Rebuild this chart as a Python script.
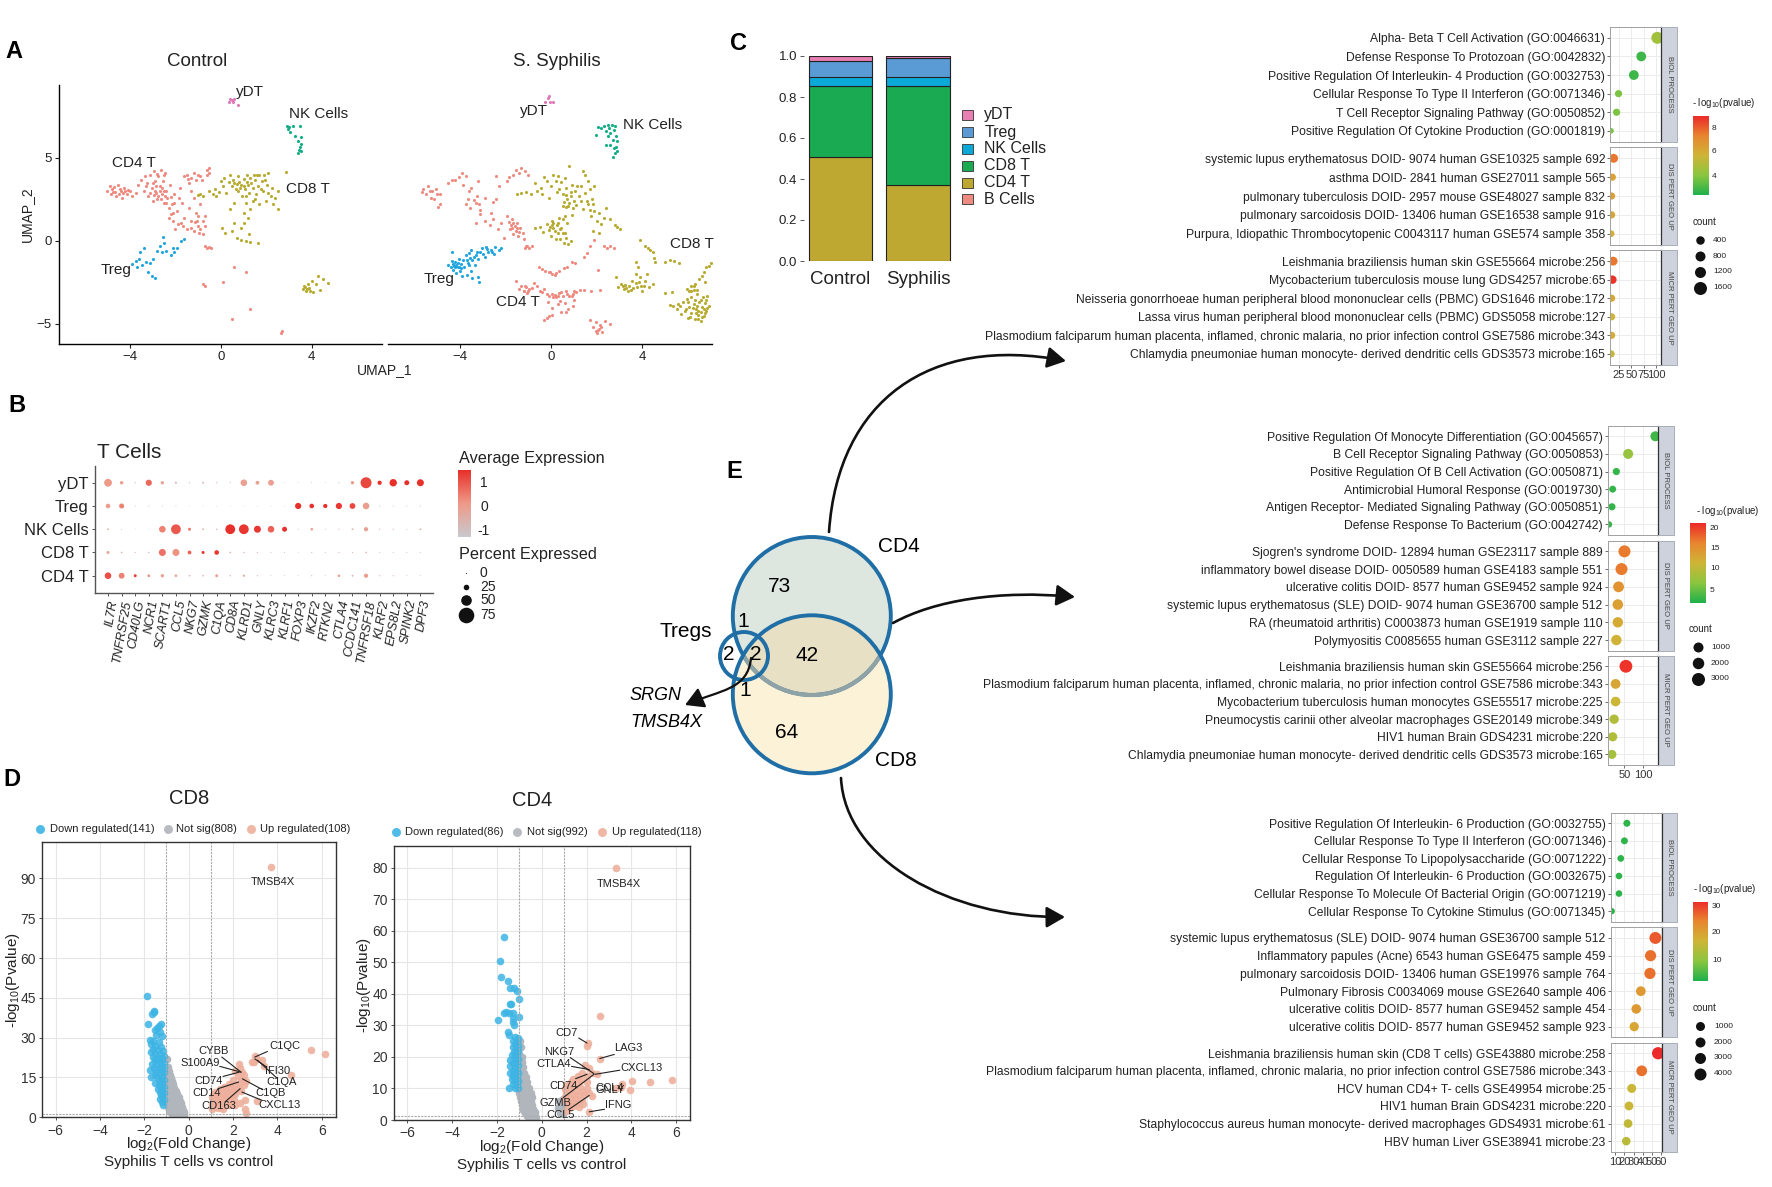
import numpy as np, pandas as pd, seaborn as sns
import matplotlib
matplotlib.use("Agg")
import matplotlib.pyplot as plt
from matplotlib.colors import LinearSegmentedColormap
from matplotlib.patches import Circle, FancyArrowPatch
from matplotlib.path import Path

sns.set_theme(style="white")
plt.rcParams['font.family'] = ['Liberation Sans', 'DejaVu Sans']
plt.rcParams['mathtext.fontset'] = 'custom'
plt.rcParams['mathtext.rm'] = 'Liberation Sans'
plt.rcParams['mathtext.default'] = 'regular'

W, H = 1772, 1187

# ---------- Panel A data ----------
ctrl_cd4 = [(-5.0,3.0),(-4.9,3.3),(-4.85,2.85),(-4.8,3.1),(-4.7,3.25),(-4.65,2.95),(-4.55,3.35),(-4.5,2.8),(-4.45,3.1),(-4.35,2.6),(-4.3,2.9),(-4.25,3.2),(-4.15,2.8),(-4.1,3.05),(-4.0,3.0),(-3.9,2.7),(-3.75,2.9),(-3.65,3.4),(-3.5,3.7),(-3.4,3.0),(-3.35,3.9),(-3.25,3.5),(-3.2,2.7),(-3.1,4.0),(-3.05,3.2),(-3.0,2.4),(-2.95,4.2),(-2.9,3.6),(-2.85,2.9),(-2.8,2.5),(-2.75,3.9),(-2.7,3.3),(-2.65,4.25),(-2.6,2.8),(-2.55,3.6),(-2.5,2.3),(-2.45,4.1),(-2.4,3.0),(-2.35,2.6),(-2.3,2.0),(-2.25,3.4),(-2.2,1.6),(-2.15,2.2),(-2.1,1.2),(-2.05,2.8),(-2.0,0.7),(-1.95,1.8),(-1.9,1.0),(-1.8,3.2),(-1.7,2.3),(-1.6,3.9),(-1.6,1.4),(-1.5,4.0),(-1.5,0.7),(-1.4,3.5),(-1.4,2.0),(-1.3,1.2),(-1.2,4.1),(-1.2,2.6),(-1.2,0.6),(-1.1,3.7),(-1.1,1.7),(-1.0,0.9),(-0.9,3.9),(-0.9,2.2),(-0.8,1.2),(-0.8,0.4),(-0.7,1.5),(-0.6,4.3),(-0.6,4.0),(-0.5,4.4),(-0.5,4.1),(-2.9,3.0),(-2.6,3.2),(-2.75,2.7),(-3.3,3.3),(-2.45,2.7),(-1.85,2.6),(-1.3,3.0),(-1.05,1.2),(-0.9,0.7),(-0.6,-0.4),(-0.5,-0.35),(-0.45,-0.45),(-0.7,-0.3),(0.6,-1.6),(1.1,-1.9),(-0.8,-2.6),(-0.7,-2.75),(0.1,-2.5),(1.3,-4.1),(0.5,-4.7),(2.7,-5.45),(2.65,-5.55),
 (-4.6,2.7),(-4.4,3.0),(-4.2,3.0),(-4.75,2.95),(-3.1,2.9),(-3.0,3.5),(-2.95,2.75),(-2.85,3.3),(-2.7,3.0),(-2.65,2.55),(-2.5,3.0),(-2.5,3.95),(-2.8,4.05),(-2.4,2.3),(-2.2,2.65),(-2.1,1.7),(-2.3,1.35),(-2.05,2.3),(-1.75,1.1),(-1.65,0.9),(-1.3,0.75),(-1.15,1.15),(-1.0,1.5),(-0.95,0.5),(-0.7,0.9),(-0.85,3.65),(-1.0,4.0),(-1.3,3.8),(-1.45,3.75)]
ctrl_cd8 = [(-1.0,2.75),(-0.9,2.85),(-0.8,2.7),(-0.5,3.0),(-0.35,2.8),(-0.25,3.15),(-0.2,2.7),(-0.1,2.95),(0.0,3.6),(0.1,3.3),(0.15,3.8),(0.25,2.9),(0.35,3.55),(0.4,4.0),(0.5,3.3),(0.55,3.7),(0.6,2.3),(0.65,3.1),(0.7,3.45),(0.75,3.9),(0.85,3.2),(0.9,3.4),(0.95,2.7),(1.0,3.75),(1.05,3.1),(1.1,2.3),(1.15,4.0),(1.2,3.4),(1.25,2.9),(1.3,1.9),(1.3,3.8),(1.4,3.2),(1.4,2.4),(1.5,3.7),(1.55,2.8),(1.6,4.0),(1.65,3.3),(1.7,2.2),(1.8,3.6),(1.85,3.0),(1.9,4.0),(2.0,2.4),(2.05,3.4),(2.1,4.1),(2.2,2.7),(2.25,3.2),(2.3,2.2),(2.4,2.6),(2.5,1.9),(2.5,3.0),(2.85,4.15),(0.05,0.8),(0.2,0.5),(0.5,0.6),(0.6,1.1),(0.7,0.2),(0.9,0.8),(0.9,0.05),(1.0,1.1),(1.1,0.0),(1.2,1.4),(1.25,0.4),(1.3,-0.05),(1.65,-0.1),(0.4,1.9),(1.0,1.7),(3.6,-2.9),(3.65,-2.7),(3.75,-3.0),(3.85,-2.6),(3.9,-2.85),(4.0,-2.4),(4.05,-3.1),(4.2,-2.6),(4.3,-2.1),(4.35,-2.95),(4.5,-2.3),(4.7,-2.55),
 (0.6,3.5),(0.8,3.55),(1.0,3.3),(1.15,3.55),(1.35,3.5),(1.45,3.95),(1.7,3.95),(1.75,3.15),(1.95,3.7),(0.75,3.0),(1.1,2.7),(1.5,2.55),(2.1,2.9),(3.7,-2.8),(3.8,-2.9),(3.95,-3.0)]
ctrl_treg = [(-3.9,-1.4),(-3.75,-1.2),(-3.7,-1.6),(-3.6,-1.1),(-3.55,-0.7),(-3.45,-1.45),(-3.4,-0.4),(-3.3,-1.3),(-3.2,-1.9),(-3.1,-1.35),(-3.05,-2.1),(-3.0,-1.1),(-2.9,-2.25),(-2.8,-0.6),(-2.7,-0.3),(-2.6,-0.65),(-2.5,-0.1),(-2.4,-0.6),(-2.2,-0.85),(-2.1,-0.4),(-2.05,-0.7),(-1.95,-0.45),(-2.55,0.25),(-1.75,0.0),(-1.6,0.12)]
ctrl_nk = [(2.9,6.9),(2.95,6.75),(3.0,6.85),(3.05,6.55),(3.2,6.95),(3.25,6.35),(3.4,6.05),(3.5,6.9),(3.55,6.25),(3.55,5.85),(3.5,5.65),(3.55,5.45),(3.4,5.3),(3.45,5.5)]
ctrl_ydt = [(0.35,8.4),(0.4,8.55),(0.5,8.5),(0.55,8.4),(0.6,8.55),(0.75,8.2)]
syph_cd4 = [(-5.65,2.95),(-5.6,3.1),(-5.5,2.8),(-5.4,3.3),(-5.3,3.0),(-5.25,2.6),(-5.15,2.5),(-5.05,3.1),(-4.95,2.05),(-4.85,2.2),(-4.85,2.8),(-4.5,3.5),(-4.35,3.7),(-4.2,3.65),(-4.05,3.85),(-3.9,4.1),(-3.85,3.4),(-3.75,3.9),(-3.6,3.0),(-3.5,3.2),(-3.65,2.5),(-3.75,2.2),(-3.55,2.0),(-3.4,2.45),(-3.25,2.7),(-3.2,3.6),(-3.15,2.2),(-3.1,1.85),(-2.9,2.6),(-2.55,2.35),(-2.4,2.5),(-2.4,3.9),(-2.3,3.3),(-1.95,3.6),(-1.85,3.85),(-1.65,4.0),(-1.55,4.3),(-1.4,4.1),(-1.3,4.4),(-1.15,4.2),(-1.0,4.0),(-2.65,1.7),(-3.3,1.05),(-3.1,1.6),(-2.9,1.2),(-2.7,0.95),(-2.55,1.3),(-2.35,0.7),(-2.2,1.1),(-2.05,0.2),(-1.95,1.5),(-1.85,1.15),(-1.8,0.7),(-1.7,1.3),(-1.65,0.4),(-1.6,0.9),(-1.5,1.1),(-1.45,0.3),(-1.35,0.8),(-1.2,0.1),(-1.15,-0.45),(-1.05,-0.3),(-0.95,-0.45),(-0.85,-0.3),(2.3,-0.3),(2.45,-0.4),(2.6,-0.3),(2.75,-0.45),(1.55,-0.75),(1.45,-0.95),(1.7,-0.3),(1.9,0.05),(-0.55,-1.55),(-0.4,-1.7),(-0.25,-1.8),(-0.1,-1.85),(0.05,-2.0),(0.2,-1.95),(0.35,-1.8),(0.55,-1.65),(0.7,-1.55),(0.9,-1.3),(1.05,-1.35),(2.05,-1.75),(-1.55,-2.4),(-1.4,-2.9),(-1.3,-2.75),(-1.2,-3.0),(-1.1,-2.8),(-1.0,-3.0),(-0.85,-2.85),(-0.75,-2.55),(-0.6,-2.75),(-0.5,-3.0),(-0.4,-3.1),(-0.3,-2.9),(-0.2,-3.2),(-0.1,-3.3),(0.05,-3.2),(0.2,-3.4),(0.35,-3.15),(0.5,-3.3),(0.65,-3.05),(0.8,-3.3),(0.95,-3.2),(1.1,-3.1),(1.25,-2.95),(1.45,-2.95),(1.75,-3.0),(2.15,-2.95),(-0.15,-3.7),(0.05,-4.05),(0.3,-3.8),(0.45,-4.3),(0.6,-3.75),(0.75,-4.1),(0.95,-3.9),(1.0,-3.55),(-0.3,-4.75),(-0.2,-4.65),(-0.1,-4.55),(0.05,-4.45),(1.7,-4.8),(1.85,-5.2),(1.95,-4.9),(2.05,-5.4),(2.15,-5.1),(2.25,-5.5),(2.35,-4.85),(2.0,-5.55),(2.6,-5.0),
 (-1.75,0.95),(-1.7,0.8),(-1.55,0.6),(-1.65,1.05),(-1.5,0.75),(-1.25,0.45),(-1.4,0.55),(-1.1,-0.3),(-1.2,-3.05),(-1.05,-3.15),(-0.95,-2.9),(-1.15,-2.7),(0.15,-3.25),(0.3,-3.3),(0.45,-3.1),(0.7,-3.2),(0.9,-3.35),(1.0,-3.05),(0.1,-3.4),(-0.05,-1.9),(0.15,-2.05),(0.4,-3.6),(0.65,-4.3),(2.1,-5.3),(1.95,-5.45),(2.2,-5.2),(-5.2,3.0),(-5.0,2.85),(-3.3,2.3)]
syph_cd8 = [(-1.5,2.85),(-1.3,2.9),(-1.1,2.95),(-0.9,2.8),(-0.7,3.5),(-0.6,3.0),(-0.45,3.2),(-0.4,2.8),(-0.3,3.85),(-0.2,3.6),(-0.1,2.6),(0.0,3.3),(0.1,4.0),(0.2,3.6),(0.25,2.95),(0.3,3.9),(0.45,3.55),(0.5,2.8),(0.6,3.8),(0.65,3.2),(0.7,2.5),(0.8,4.5),(0.85,2.7),(0.9,3.4),(1.0,2.4),(1.05,3.0),(1.1,2.15),(1.2,2.7),(1.3,3.3),(1.3,2.4),(1.4,1.9),(1.4,4.2),(1.5,4.0),(1.5,2.9),(1.6,3.6),(1.6,2.2),(1.7,3.1),(1.75,1.5),(1.8,2.5),(1.9,3.3),(1.9,1.8),(2.0,1.2),(2.1,1.7),(2.2,1.0),(2.3,1.4),(2.4,2.0),(2.6,1.3),(2.8,0.95),(2.9,0.85),(3.0,0.7),(2.1,0.5),(1.85,0.6),(-0.7,0.75),(-0.5,0.85),(-0.35,0.55),(-0.2,1.0),(-0.1,0.65),(0.0,0.3),(0.05,1.2),(0.1,0.75),(0.2,0.1),(0.25,0.95),(0.3,0.45),(0.35,1.35),(0.4,0.1),(0.45,0.8),(0.5,1.3),(0.55,-0.1),(0.6,0.5),(0.7,1.1),(0.75,-0.2),(0.85,0.0),(0.6,1.5),(0.9,1.55),(0.5,2.1),(0.75,2.1),(0.65,2.75),(3.9,0.05),(4.1,-0.3),(4.25,-0.45),(4.35,-0.55),(4.45,-0.65),(4.5,-1.05),(4.55,-1.3),(5.0,-1.3),(5.2,-1.15),(5.4,-1.2),(5.6,-1.35),(2.85,-2.2),(2.95,-2.8),(3.05,-2.6),(3.2,-2.9),(3.25,-2.65),(3.35,-3.0),(3.4,-2.7),(3.55,-2.4),(3.6,-2.85),(3.7,-2.0),(3.7,-2.55),(3.8,-1.55),(3.9,-2.2),(3.95,-2.7),(4.0,-3.0),(4.1,-2.4),(4.2,-2.0),(4.3,-2.8),(4.45,-2.6),(3.7,-1.3),(5.0,-3.15),(5.3,-3.1),(5.2,-3.85),(5.35,-3.9),(5.5,-4.1),(5.65,-3.95),(5.7,-4.4),(5.8,-3.7),(5.85,-4.2),(5.95,-3.5),(6.0,-4.65),(6.05,-4.0),(6.15,-3.4),(6.15,-4.35),(6.25,-3.8),(6.3,-4.7),(6.35,-4.1),(6.4,-3.2),(6.45,-4.45),(6.5,-3.7),(6.55,-4.85),(6.6,-4.0),(6.65,-3.4),(6.7,-4.5),(6.75,-3.75),(6.8,-4.2),(6.85,-3.3),(6.9,-3.95),(6.55,-4.3),(6.05,-3.0),(5.95,-2.9),(6.15,-2.75),(6.3,-2.6),(6.4,-2.95),(6.5,-2.3),(6.6,-2.1),(6.7,-1.9),(6.8,-1.6),(6.9,-1.5),(7.0,-1.35),(6.75,-2.5),(6.25,-2.95),
 (0.55,2.35),(0.8,2.3),(0.95,2.0),(0.65,2.05),(0.85,2.95),(1.15,3.3),(0.35,3.1),(0.05,0.95),(0.15,0.6),(0.3,1.1),(0.4,0.7),(0.1,1.05),(-0.05,0.85),(0.5,0.45),(0.65,0.15),(1.55,2.4),(1.7,1.85),(1.85,2.2),(3.15,-2.7),(3.3,-2.85),(3.5,-2.95),(3.75,-2.8),(3.85,-2.45),(4.05,-2.75),(5.55,-3.8),(5.9,-4.1),(6.0,-3.7),(6.2,-4.05),(6.3,-3.55),(6.4,-3.9),(6.45,-4.2),(6.55,-3.55),(6.7,-4.1),(6.75,-4.35),(6.8,-3.55),(6.35,-4.35),(6.1,-4.6),(6.45,-4.7),(6.6,-4.6),(6.85,-4.05),(6.15,-3.0),(6.25,-2.75)]
syph_treg = [(-4.5,-1.45),(-4.4,-1.6),(-4.35,-1.2),(-4.3,-1.75),(-4.25,-1.5),(-4.2,-1.3),(-4.15,-1.95),(-4.1,-1.6),(-4.05,-1.1),(-4.0,-1.8),(-3.95,-1.4),(-3.9,-2.1),(-3.85,-1.15),(-3.8,-1.6),(-3.75,-0.85),(-3.7,-2.05),(-3.65,-1.35),(-3.6,-0.75),(-3.55,-1.05),(-3.5,-1.8),(-3.45,-2.25),(-3.4,-0.95),(-3.35,-1.45),(-3.25,-0.65),(-3.2,-1.1),(-3.2,-2.15),(-3.15,-2.45),(-3.05,-0.45),(-3.0,-0.8),(-2.9,-0.95),(-2.85,-0.35),(-2.75,-0.7),(-2.65,-0.55),(-2.5,-0.8),(-2.45,-0.35),(-2.3,-0.55),(-2.2,-0.45),(-4.35,-0.7),(-3.5,-0.55),
 (-4.2,-1.55),(-4.15,-1.45),(-4.1,-1.35),(-4.3,-1.4),(-4.05,-1.55),(-3.95,-1.65),(-3.7,-1.15),(-3.6,-1.45),(-3.45,-1.15),(-3.3,-0.85),(-3.1,-0.7),(-2.8,-0.5),(-2.6,-0.7)]
syph_nk = [(1.95,6.4),(2.05,6.85),(2.2,6.8),(2.3,6.95),(2.4,6.6),(2.5,7.0),(2.5,6.3),(2.55,6.8),(2.6,6.5),(2.65,7.0),(2.7,6.1),(2.75,6.7),(2.8,6.9),(2.85,6.3),(2.4,5.8),(2.6,5.8),(2.75,5.6),(2.8,5.3),(2.85,5.65),(2.7,5.05),(2.9,6.0),(2.9,5.45)]
syph_ydt = [(-0.25,8.4),(-0.15,8.6),(-0.1,8.75),(-0.05,8.4),(0.1,8.35)]

# ---------- Panel B data ----------
genes = ['IL7R','TNFRSF25','CD40LG','NCR1','SCART1','CCL5','NKG7','GZMK','C1QA','CD8A','KLRD1','GNLY','KLRC3','KLRF1','FOXP3','IKZF2','RTKN2','CTLA4','CCDC141','TNFRSF18','KLRF2','EPS8L2','SPINK2','DPF3']
rows_b = ['CD4 T','CD8 T','NK Cells','Treg','yDT']
pct_cd4 = [30,26,12,10,14,10,5,5,12,4,8,3,2,2,2,3,2,10,6,18,3,3,2,2]
exp_cd4 = [1.0,.4,1.2,.3,-.1,-.1,-.5,-.5,-.1,-.6,-.2,-.6,-.7,-.7,-.7,-.6,-.7,-.1,-.5,0,-.6,-.6,-.7,-.7]
pct_cd8 = [12,5,3,4,32,32,16,12,20,5,4,3,2,2,1,3,2,3,3,5,2,2,2,2]
exp_cd8 = [-.2,-.5,-.6,-.6,.6,.2,.8,1.4,1.3,-.5,-.6,-.6,-.7,-.7,-.7,-.6,-.7,-.6,-.6,-.5,-.7,-.7,-.7,-.7]
pct_nk = [6,2,1,1,30,46,12,6,4,46,46,32,30,22,2,10,2,3,6,18,3,3,2,6]
exp_nk = [-.5,-.7,-.7,-.7,.4,.9,.5,-.5,-.6,1.4,1.3,1.3,.8,1.4,-.7,-.1,-.7,-.6,-.5,-.1,-.6,-.6,-.7,-.4]
pct_treg = [20,22,2,2,2,2,1,1,1,1,1,1,1,1,28,20,18,28,26,30,2,2,2,2]
exp_treg = [0,.4,-.7,-.7,-.7,-.7,-.7,-.7,-.7,-.7,-.7,-.7,-.7,-.7,1.4,1.4,1.4,1.3,1.1,0,-.7,-.7,-.7,-.7]
pct_ydt = [36,14,3,28,14,7,3,6,3,3,30,16,26,1,1,2,1,3,14,52,18,34,22,32]
exp_ydt = [.1,0,-.6,.7,-.2,-.5,-.7,-.6,-.7,-.7,-.1,-.1,0,-.7,-.7,-.7,-.7,-.6,0,1.1,1.4,1.4,1.4,1.4]
size_legend = [0,25,50,75]

# ---------- Panel C data ----------
stack_names = ['CD4 T','CD8 T','NK Cells','Treg','yDT']
stack_colors = ['#bea832','#1aab52','#0aa9d8','#5b9bd5','#e77fb3']
groups_c = ['Control','Syphilis']
frac_control = [0.505,0.348,0.047,0.075,0.025]
frac_syphilis = [0.37,0.485,0.045,0.09,0.01]
legend_c = ['yDT','Treg','NK Cells','CD8 T','CD4 T','B Cells']
legend_c_colors = ['#e77fb3','#5b9bd5','#0aa9d8','#1aab52','#bea832','#ef8a80']

# ---------- Panel D data ----------
cd8_down = [(-1.9,45.7),(-1.58,40.2),(-1.55,39.8),(-1.67,39),(-1.84,35.3),(-1.26,35.2),(-1.34,34.3),(-1.42,33.5),(-1.5,33),(-1.3,32),(-1.45,31),(-1.2,30.5),(-1.75,29.3),(-1.6,28.8),(-1.35,28.5),(-1.7,27.5),(-1.5,27),(-1.25,26.5),(-1.6,25.8),(-1.4,25.5),(-1.15,25),(-1.68,24.5),(-1.5,24),(-1.3,23.8),(-1.1,23.2),(-1.6,22.8),(-1.4,22.5),(-1.2,22),(-1.5,21.5),(-1.3,21),(-1.1,20.5),(-1.65,20),(-1.45,20),(-1.25,19.5),(-1.12,19),(-1.55,18.5),(-1.35,18.2),(-1.75,18),(-1.2,17.8),(-1.45,17),(-1.1,17),(-1.3,16.2),(-1.5,16),(-1.7,15.2),(-1.2,15),(-1.4,14.8),(-1.1,14),(-1.3,13.5),(-1.5,13),(-1.2,12.5),(-1.35,12),(-1.1,11.5),(-1.25,11),(-1.4,10.5),(-1.15,10),(-1.3,9.5),(-1.1,9),(-1.25,8.5),(-1.15,7.5),(-1.3,7),(-1.1,6.5),(-1.2,5.8),(-1.15,4.5)]
cd8_ns = [(-0.97,22),(-0.95,19),(-1.0,18),(-0.9,17.5),(-0.98,16),(-0.85,16),(-0.95,15),(-0.8,14.8),(-1.02,14),(-0.9,14),(-0.75,13.5),(-0.98,13),(-0.85,12.8),(-0.7,12.5),(-1.0,12),(-0.9,11.8),(-0.78,11.5),(-0.65,11.2),(-1.02,11),(-0.92,10.6),(-0.8,10.3),(-0.68,10.2),(-0.58,10),(-1.0,9.8),(-0.88,9.5),(-0.75,9.2),(-0.62,9),(-0.52,8.7),(-1.03,8.8),(-0.92,8.4),(-0.8,8.2),(-0.68,8),(-0.55,7.8),(-0.45,7.6),(-1.0,7.5),(-0.88,7.2),(-0.75,7),(-0.62,6.8),(-0.5,6.6),(-0.4,6.3),(-0.98,6.2),(-0.85,6),(-0.72,5.8),(-0.6,5.6),(-0.48,5.4),(-0.36,5.2),(-0.95,5),(-0.82,4.8),(-0.7,4.6),(-0.58,4.4),(-0.45,4.2),(-0.32,4),(-0.92,3.8),(-0.8,3.6),(-0.66,3.4),(-0.54,3.2),(-0.4,3),(-0.25,2.9),(-0.88,2.7),(-0.75,2.5),(-0.6,2.4),(-0.46,2.2),(-0.32,2),(-0.2,1.9),(-0.8,1.6),(-0.65,1.5),(-0.5,1.3),(-0.35,1.1),(-0.22,1),(-0.7,0.8),(-0.55,0.7),(-0.4,0.6),(-0.25,0.5)]
cd8_up = [(3.72,94.3),(5.5,25.2),(6.15,23.7),(4.6,16),(3.0,23),(2.95,21),(3.1,22),(3.3,21.5),(3.4,19.5),(2.85,20.8),(2.25,20),(2.3,18.5),(2.1,17.5),(2.4,17),(2.5,16),(2.2,15.5),(2.4,14.5),(2.0,14),(2.6,13.5),(2.3,13),(1.8,12.5),(2.1,12),(2.5,12),(1.6,11.5),(1.9,11),(2.2,11),(1.4,10.5),(1.7,10),(2.0,10),(2.35,10),(1.2,9.5),(1.5,9),(1.8,9),(2.1,8.8),(1.1,8.5),(1.35,8),(1.6,8),(1.9,7.8),(1.05,7.5),(1.25,7),(1.5,7),(1.75,6.8),(2.05,6.5),(1.1,6.2),(1.35,6),(1.6,5.8),(1.9,5.5),(2.3,5.5),(1.05,5),(1.3,5),(1.55,4.6),(1.8,4.5),(2.1,4.5),(2.55,6.5),(3.1,6),(1.1,4),(1.3,3.6),(1.55,3.2),(1.05,3),(2.55,3),(2.6,1.8),(1.2,5.6),(1.45,6.4),(1.7,7.4),(1.95,8.6),(1.25,4.4),(1.45,3.9),(1.7,5.2)]
cd4_down = [(-1.68,58),(-1.85,50.3),(-1.8,45.2),(-1.53,44.2),(-1.42,42),(-1.26,41.8),(-1.12,40.9),(-1.0,38.5),(-1.42,36.8),(-1.38,36.7),(-1.6,34.3),(-1.7,34),(-1.45,34),(-1.3,33.8),(-1.0,32.8),(-1.3,32.5),(-1.95,31.7),(-1.28,31),(-1.25,30),(-1.5,27.8),(-1.45,27),(-1.2,26.2),(-1.05,26),(-1.3,25),(-1.1,24.8),(-1.2,24),(-1.05,23.5),(-1.3,23),(-1.15,22.5),(-1.05,22),(-1.25,21.5),(-1.1,21),(-1.35,20.5),(-1.2,20),(-1.05,19.5),(-1.4,19),(-1.15,18.5),(-1.3,18),(-1.05,17.5),(-1.4,17),(-1.2,16.5),(-1.1,16),(-1.3,15.5),(-1.4,15),(-1.05,15),(-1.2,14.5),(-1.3,14),(-1.1,13.5),(-1.35,13),(-1.05,12.5),(-1.2,12),(-1.3,11.5),(-1.1,11),(-1.2,10.3),(-1.45,10),(-1.05,10)]
cd4_ns = [(-0.98,25),(-0.95,23),(-1.0,21),(-0.9,20),(-1.02,19),(-0.88,18.4),(-0.97,17.5),(-0.85,16.8),(-1.02,16),(-0.9,15.5),(-0.78,15),(-0.98,14.5),(-0.85,14),(-0.72,13.6),(-1.0,13.2),(-0.88,12.8),(-0.75,12.4),(-0.65,12),(-1.02,11.6),(-0.9,11.2),(-0.78,10.8),(-0.65,10.5),(-0.55,10.2),(-1.0,10),(-0.88,9.6),(-0.75,9.3),(-0.62,9),(-0.5,8.6),(-1.02,8.7),(-0.9,8.2),(-0.78,8),(-0.65,7.8),(-0.52,7.5),(-0.42,7.2),(-0.97,7.2),(-0.85,6.9),(-0.72,6.6),(-0.6,6.4),(-0.48,6.1),(-0.93,5.9),(-0.8,5.6),(-0.68,5.3),(-0.55,5.1),(-0.43,4.8),(-0.88,4.6),(-0.76,4.3),(-0.62,4.1),(-0.5,3.8),(-0.38,3.5),(-0.83,3.3),(-0.7,3.1),(-0.56,2.8),(-0.42,2.6),(-0.3,2.4),(-0.75,2.2),(-0.6,1.9),(-0.45,1.7),(-0.3,1.5),(-0.65,1.2),(-0.5,0.9),(-0.35,0.7),(-0.25,0.6),(0.75,6),(0.85,5),(0.95,6.8),(0.72,3.8),(0.9,3.2),(0.97,4.4),(0.8,2.2),(0.95,1.9)]
cd4_up = [(3.33,79.8),(2.6,33),(2.05,24.3),(2.0,23.5),(2.6,19.5),(1.95,17.3),(2.1,16.5),(2.25,15),(2.45,14.7),(1.8,15),(1.6,14),(2.0,14),(1.4,13),(1.75,12.8),(1.3,12),(1.6,11.7),(2.0,12),(3.6,11.5),(4.02,12.3),(4.85,12),(5.8,12.8),(3.95,9.4),(3.55,10.5),(3.3,10.3),(1.1,11),(1.4,10.7),(1.7,10.5),(2.0,10),(1.05,9.7),(1.3,9.5),(1.55,9.2),(1.85,9),(2.1,8.5),(1.1,8.5),(1.35,8.2),(1.6,8),(1.9,7.8),(2.25,7.5),(1.05,7.3),(1.3,7),(1.55,6.8),(1.8,6.5),(1.1,6),(1.35,5.8),(1.6,5.5),(1.85,5.2),(1.15,5),(1.4,4.5),(1.65,4.2),(1.2,3.8),(1.1,3),(2.1,2.6)]
cd8_labels = [('TMSB4X',3.78,88.5,None,None,None,None),('C1QC',4.32,27,3.55,24.8,2.98,22.7),('CYBB',1.14,25,1.49,22.7,2.36,17),('S100A9',0.52,20.6,1.4,19.2,2.36,17),('IFI30',4.0,17.6,2.98,22,3.5,19),('C1QA',4.2,13.3,3.1,21.5,4.0,14.6),('CD74',0.9,13.7,1.55,15.4,2.27,17),('C1QB',3.7,9,2.42,14.5,3.33,10.4),('CD14',0.83,9.3,1.33,10.8,2.25,13.3),('CD163',1.36,4.1,1.64,5.8,2.32,10.8),('CXCL13',4.07,4.5,2.4,9.5,3.3,6.4)]
cd4_labels = [('TMSB4X',3.43,74.7,None,None,None,None),('CD7',1.12,27.7,1.65,26,2.02,24.4),('LAG3',3.86,22.9,3.24,20.8,2.59,19.5),('NKG7',0.78,21.6,1.27,19.8,2.33,14.7),('CTLA4',0.55,17.9,1.33,17,2.12,16),('CXCL13',4.47,16.6,3.49,15.8,2.39,14.5),('CD74',0.96,10.8,1.51,13.1,2.02,14.5),('CCL4',3.04,10.3,None,None,None,None),('GNLY',3.04,9.6,None,None,None,None),('GZMB',0.63,5.4,0.96,7.1,2.33,14.5),('IFNG',3.41,4.66,2.8,3.4,2.12,2.6),('CCL5',0.82,1.7,1.2,3.3,2.12,7.8)]

# ---------- Panel E data ----------
strip_names = ['BIOL PROCESS','DIS PERT GEO UP','MICR PERT GEO UP']
p1_labels = [['Alpha- Beta T Cell Activation (GO:0046631)','Defense Response To Protozoan (GO:0042832)','Positive Regulation Of Interleukin- 4 Production (GO:0032753)','Cellular Response To Type II Interferon (GO:0071346)','T Cell Receptor Signaling Pathway (GO:0050852)','Positive Regulation Of Cytokine Production (GO:0001819)'],
 ['systemic lupus erythematosus DOID- 9074 human GSE10325 sample 692','asthma DOID- 2841 human GSE27011 sample 565','pulmonary tuberculosis DOID- 2957 mouse GSE48027 sample 832','pulmonary sarcoidosis DOID- 13406 human GSE16538 sample 916','Purpura, Idiopathic Thrombocytopenic C0043117 human GSE574 sample 358'],
 ['Leishmania braziliensis human skin GSE55664 microbe:256','Mycobacterium tuberculosis mouse lung GDS4257 microbe:65','Neisseria gonorrhoeae human peripheral blood mononuclear cells (PBMC) GDS1646 microbe:172','Lassa virus human peripheral blood mononuclear cells (PBMC) GDS5058 microbe:127','Plasmodium falciparum human placenta, inflamed, chronic malaria, no prior infection control GSE7586 microbe:343','Chlamydia pneumoniae human monocyte- derived dendritic cells GDS3573 microbe:165']]
p1_x = [[102.6,70,55,24,20,8.7],[14,11.4,10,10,9],[13,11.5,10,10,10,9]]
p1_p = [[4.3,2.5,2.5,3.5,3.5,3.5],[7.5,6.2,6.3,6,5.8],[7.5,8.8,6,5.5,5.8,5.2]]
p1_c = [[1600,1100,1100,500,500,150],[900,500,500,500,400],[900,800,500,500,500,500]]
p2_labels = [['Positive Regulation Of Monocyte Differentiation (GO:0045657)','B Cell Receptor Signaling Pathway (GO:0050853)','Positive Regulation Of B Cell Activation (GO:0050871)','Antimicrobial Humoral Response (GO:0019730)','Antigen Receptor- Mediated Signaling Pathway (GO:0050851)','Defense Response To Bacterium (GO:0042742)'],
 ["Sjogren's syndrome DOID- 12894 human GSE23117 sample 889",'inflammatory bowel disease DOID- 0050589 human GSE4183 sample 551','ulcerative colitis DOID- 8577 human GSE9452 sample 924','systemic lupus erythematosus (SLE) DOID- 9074 human GSE36700 sample 512','RA (rheumatoid arthritis) C0003873 human GSE1919 sample 110','Polymyositis C0085655 human GSE3112 sample 227'],
 ['Leishmania braziliensis human skin GSE55664 microbe:256','Plasmodium falciparum human placenta, inflamed, chronic malaria, no prior infection control GSE7586 microbe:343','Mycobacterium tuberculosis human monocytes GSE55517 microbe:225','Pneumocystis carinii other alveolar macrophages GSE20149 microbe:349','HIV1 human Brain GDS4231 microbe:220','Chlamydia pneumoniae human monocyte- derived dendritic cells GDS3573 microbe:165']]
p2_x = [[134,60,28,18,16,8],[50,42,34,32,32,28],[54,26,26,22,18,16]]
p2_p = [[2.5,7,2,2,2,2],[17,17,15,13.5,12.5,11.5],[21,13,11,9,9,8]]
p2_c = [[2000,2000,600,500,600,200],[3000,3000,2400,2300,2200,2200],[3400,1900,1800,1700,1600,1500]]
p3_labels = [['Positive Regulation Of Interleukin- 6 Production (GO:0032755)','Cellular Response To Type II Interferon (GO:0071346)','Cellular Response To Lipopolysaccharide (GO:0071222)','Regulation Of Interleukin- 6 Production (GO:0032675)','Cellular Response To Molecule Of Bacterial Origin (GO:0071219)','Cellular Response To Cytokine Stimulus (GO:0071345)'],
 ['systemic lupus erythematosus (SLE) DOID- 9074 human GSE36700 sample 512','Inflammatory papules (Acne) 6543 human GSE6475 sample 459','pulmonary sarcoidosis DOID- 13406 human GSE19976 sample 764','Pulmonary Fibrosis C0034069 mouse GSE2640 sample 406','ulcerative colitis DOID- 8577 human GSE9452 sample 454','ulcerative colitis DOID- 8577 human GSE9452 sample 923'],
 ['Leishmania braziliensis human skin (CD8 T cells) GSE43880 microbe:258','Plasmodium falciparum human placenta, inflamed, chronic malaria, no prior infection control GSE7586 microbe:343','HCV human CD4+ T- cells GSE49954 microbe:25','HIV1 human Brain GDS4231 microbe:220','Staphylococcus aureus human monocyte- derived macrophages GDS4931 microbe:61','HBV human Liver GSE38941 microbe:23']]
p3_x = [[22.7,20,16,14,14,6],[54,48.7,48,38,33,30.7],[57,39,28,25,24,22]]
p3_p = [[2,2,2,2,2,2],[28,26,26,21,21,19],[32,26,16,16,15,14]]
p3_c = [[700,600,500,400,400,300],[4000,3500,3500,2500,2400,2200],[4200,3200,2000,1900,1800,1700]]

# ---------- Layout ----------
fig = plt.figure(figsize=(W/100, H/100), dpi=100, facecolor='white')
def axpx(l, t, r, b, **kw):
    return fig.add_axes([l/W, 1-b/H, (r-l)/W, (b-t)/H], **kw)
ov = fig.add_axes([0, 0, 1, 1], zorder=20)
ov.set_xlim(0, W); ov.set_ylim(H, 0); ov.axis('off'); ov.patch.set_alpha(0)
def T(x, y, s, size=9, ha='left', va='center', **kw):
    return ov.text(x, y, s, fontsize=size, ha=ha, va=va, color=kw.pop('color', '#222222'), **kw)
px2pt = 72/100

for lab, x, y in [('A',14,52),('B',17,406),('C',739,43),('D',11.5,780),('E',734,472)]:
    T(x, y, lab, 17, ha='center', fontweight='bold', color='black')

# ---------- A ----------
def umap_ax(l, r, xlim, sets, left):
    ax = axpx(l, 85, r, 343.7)
    for pts, c in sets:
        d = pd.DataFrame(pts, columns=['u1','u2'])
        sns.scatterplot(data=d, x='u1', y='u2', color=c, s=5, linewidth=0, ax=ax, legend=False)
    ax.set_xlim(*xlim); ax.set_ylim(-6.2, 9.4)
    ax.set_xticks([-4,0,4]); ax.set_xticklabels(['\u22124','0','4'])
    ax.set_xlabel(''); ax.set_ylabel('')
    sns.despine(ax=ax, left=not left)
    for s in ax.spines.values():
        s.set_color('black'); s.set_linewidth(1.0)
    ax.tick_params(axis='x', length=3, width=.8, labelsize=9.5, colors='#222222', bottom=True, pad=2)
    if left:
        ax.set_yticks([-5,0,5]); ax.set_yticklabels(['\u22125','0','5'])
        ax.tick_params(axis='y', length=3, width=.8, labelsize=9.5, colors='#222222', left=True, pad=2)
    else:
        ax.set_yticks([])
    ax.patch.set_alpha(0)
    return ax
umap_ax(58.7, 382, (-7.14, 7.1), [(ctrl_cd4,'#ef8a80'),(ctrl_cd8,'#b8ab31'),(ctrl_treg,'#21a6de'),(ctrl_nk,'#13ae86'),(ctrl_ydt,'#df78b7')], True)
umap_ax(388, 712, (-7.15, 7.05), [(syph_cd4,'#ef8a80'),(syph_cd8,'#b8ab31'),(syph_treg,'#21a6de'),(syph_nk,'#13ae86'),(syph_ydt,'#df78b7')], False)
T(197, 62, 'Control', 13.5, ha='center'); T(557, 62, 'S. Syphilis', 13.5, ha='center')
T(385, 370.5, 'UMAP_1', 10, ha='center')
T(27, 214, 'UMAP_2', 10, ha='center', rotation=90)
for x, y, s in [(250,92,'yDT'),(319,114,'NK Cells'),(134,163,'CD4 T'),(308,189,'CD8 T'),(116,270,'Treg'),(534,111,'yDT'),(653,125,'NK Cells'),(692,244,'CD8 T'),(439,279,'Treg'),(518,302,'CD4 T')]:
    T(x, y, s, 11, ha='center')

# ---------- B ----------
axb = axpx(95, 466, 433, 592.7)
recs = []
for r, (pp, ee) in enumerate([(pct_cd4,exp_cd4),(pct_cd8,exp_cd8),(pct_nk,exp_nk),(pct_treg,exp_treg),(pct_ydt,exp_ydt)]):
    for g, (p, e) in enumerate(zip(pp, ee)):
        recs.append((g, r, p, e))
dfb = pd.DataFrame(recs, columns=['g','r','pct','exp'])
cmap_b = LinearSegmentedColormap.from_list('b', ['#c9c9cf','#ee9a88','#e8302a'])
def pct_area(p):
    return ((0.2*p + 0.6)*px2pt)**2
sns.scatterplot(data=dfb, x='g', y='r', hue='exp', size='pct', palette=cmap_b, hue_norm=(-1.2,1.4),
                sizes={p: pct_area(p) for p in dfb.pct.unique()}, linewidth=0, legend=False, ax=axb)
axb.set_xlim(-0.96, 23.93); axb.set_ylim(-0.73, 4.72)
axb.set_xticks(range(len(genes)))
axb.set_xticklabels(genes, rotation=80, fontstyle='italic', fontsize=9, ha='right', rotation_mode='anchor', color='#222222')
axb.set_yticks(range(5)); axb.set_yticklabels(rows_b, fontsize=12, color='#222222')
axb.set_xlabel(''); axb.set_ylabel('')
sns.despine(ax=axb)
for s in ['left','bottom']:
    axb.spines[s].set_color('#555555'); axb.spines[s].set_linewidth(1.0)
axb.tick_params(axis='both', length=2.5, width=.7, bottom=True, left=True, pad=2, color='#555555')
T(97, 452, 'T Cells', 15)
T(459, 458, 'Average Expression', 11.7)
T(459, 554, 'Percent Expressed', 11.7)
cb = axpx(458, 470, 471, 537)
cb.imshow(np.linspace(1.4,-1.2,200)[:,None], cmap=cmap_b, vmin=-1.2, vmax=1.4, aspect='auto')
cb.axis('off')
for v, y in [('1',483),('0',507),('-1',531)]:
    T(484, y, v, 10, ha='center')
for p, y in zip(size_legend, [573,587,600,615]):
    ov.scatter([466],[y], s=pct_area(p+ (0 if p else 2)), color='#111111', linewidths=0)
    T(480, y, str(p), 10)

# ---------- C ----------
axc = axpx(804, 56, 952, 261)
dfc = pd.DataFrame({'group':groups_c*5, 'frac':sum([[a,b] for a,b in zip(frac_control,frac_syphilis)],[]),
                    'cell':sum([[n,n] for n in stack_names],[])})
bottom = np.zeros(2)
for n, c in zip(stack_names, stack_colors):
    sub = dfc[dfc.cell==n]
    sns.barplot(data=sub, x='group', y='frac', color=c, width=0.82, bottom=bottom, saturation=1,
                edgecolor='#222222', linewidth=0.8, ax=axc, errorbar=None)
    bottom = bottom + sub.frac.values
axc.set_xlim(-0.47, 1.44); axc.set_ylim(0, 1)
axc.set_xlabel(''); axc.set_ylabel('')
axc.set_yticks(np.arange(0,1.01,.2)); axc.set_yticklabels(['0.0','0.2','0.4','0.6','0.8','1.0'], fontsize=9.5, color='#222222')
axc.tick_params(axis='y', length=3, width=.7, left=True, pad=2, color='#555555')
axc.tick_params(axis='x', length=0, labelsize=13.5, labelcolor='#222222', pad=7)
sns.despine(ax=axc, left=True, bottom=True)
axc.patch.set_alpha(0)
for n, c, y in zip(legend_c, legend_c_colors, [115,132,148.7,165.7,182.7,199.3]):
    ov.add_patch(plt.Rectangle((961.6,y-5),11,10,facecolor=c,edgecolor='#333333',linewidth=.6))
    T(984.4, y, n, 11.5)

# ---------- E enrichment ----------
cmap_e = LinearSegmentedColormap.from_list('e', ['#1fb14b','#8cc63f','#cfb536','#e8862f','#ed2a2a'])
def enrich(left, right, stripr, facets, labels, xs, ps, cs, xlim, ticks, norm, dia):
    for i, (t, b) in enumerate(facets):
        ax = axpx(left, t, right, b)
        d = pd.DataFrame({'x':xs[i], 'y':range(len(xs[i])), 'p':ps[i], 'c':cs[i]})
        ax.grid(True, color='#ececec', linewidth=.7); ax.set_axisbelow(True)
        sns.scatterplot(data=d, x='x', y='y', hue='p', size='c', palette=cmap_e, hue_norm=norm,
                        sizes={v:(dia(v)*px2pt)**2 for v in d.c.unique()}, linewidth=0, legend=False, ax=ax)
        n = len(xs[i])
        ax.set_xlim(*xlim); ax.set_ylim(n-0.4, -0.6)
        ax.set_yticks(range(n)); ax.set_yticklabels(labels[i], fontsize=8.7, color='#222222')
        ax.set_xticks(ticks); ax.set_xlabel(''); ax.set_ylabel('')
        ax.tick_params(axis='y', length=2, width=.6, left=True, pad=1.5, color='#555555')
        if i == 2:
            ax.set_xticklabels([str(v) for v in ticks], fontsize=8, color='#333333')
            ax.tick_params(axis='x', length=2, width=.6, bottom=True, pad=1.5, color='#555555')
        else:
            ax.tick_params(axis='x', length=0, labelbottom=False)
        for s in ax.spines.values():
            s.set_color('#a0a0a0'); s.set_linewidth(.7)
        st = axpx(right, t, stripr, b)
        st.set_facecolor('#cdd2dc'); st.set_xticks([]); st.set_yticks([])
        for s in st.spines.values():
            s.set_color('#a8aeb8'); s.set_linewidth(.7)
        st.spines['left'].set_color('#333333'); st.spines['left'].set_linewidth(.9)
        st.text(.5, .5, strip_names[i], rotation=270, ha='center', va='center', fontsize=5.5, color='#444444', transform=st.transAxes)
def ebar(l, t, r, b, title_xy, norm, ticks, count_xy, cnt, lab_x):
    c = axpx(l, t, r, b)
    c.imshow(np.linspace(1,0,200)[:,None], cmap=cmap_e, aspect='auto'); c.axis('off')
    T(title_xy[0], title_xy[1], '- log$_{10}$(pvalue)', 7)
    for v, y in ticks:
        T(r+4, y, str(v), 6)
    T(count_xy[0], count_xy[1], 'count', 7)
    for v, y, s in cnt:
        ov.scatter([count_xy[2]],[y], s=(s*px2pt)**2, color='#111111', linewidths=0)
        T(lab_x, y, str(v), 6)
enrich(1610,1661,1677,[(26.7,142),(147,245),(250,365)],p1_labels,p1_x,p1_p,p1_c,(6.7,110),[25,50,75,100],(2,9),lambda c:5+c/230)
ebar(1692.5,116,1708,195,(1692.5,103),(2,9),[(8,129),(6,151.7),(4,176)],(1692.5,221.7,1700),[(400,240,8.5),(800,256,10),(1200,271.7,11),(1600,287.7,13)],1713)
enrich(1607.5,1658,1674,[(425.7,535),(540.7,650.7),(655.7,765)],p2_labels,p2_x,p2_p,p2_c,(4,141),[50,100],(1,21.5),lambda c:6+c/500)
ebar(1690,523,1706,602.7,(1695.6,510.7),(1,21.5),[(20,529),(15,548),(10,569),(5,590)],(1689,629,1698),[(1000,647.3,10),(2000,663.3,11.5),(3000,679,13)],1711)
enrich(1610.5,1661.5,1677,[(812.7,921.7),(927.3,1037.3),(1042.7,1151.7)],p3_labels,p3_x,p3_p,p3_c,(4.7,60.7),[10,20,30,40,50,60],(1,32),lambda c:6+c/670)
ebar(1693,901.7,1708,981,(1693,889),(1,32),[(30,906),(20,933),(10,960)],(1693,1008,1700),[(1000,1026,9),(2000,1042,10),(3000,1057.7,11),(4000,1073.7,12)],1714)

# ---------- D ----------
BLUE, GREY, RED = '#3db4e4', '#b1b5bc', '#eeb09c'
def volcano(l, t, r, b, down, ns, up, ymax, yticks, labels, title_x, title_y, ylab_x, ylab_y, xl_y, leg_y, leg, leg_names):
    ax = axpx(l, t, r, b)
    ax.grid(True, color='#e6e6e6', linewidth=.8); ax.set_axisbelow(True)
    for pts, c, a in [(ns,GREY,1),(down,BLUE,.85),(up,RED,.9)]:
        d = pd.DataFrame(pts, columns=['lfc','lp'])
        sns.scatterplot(data=d, x='lfc', y='lp', color=c, alpha=a, s=30, linewidth=0, ax=ax, legend=False)
    ax.axvline(-1, color='#aaaaaa', lw=.8, ls=(0,(2,1))); ax.axvline(1, color='#aaaaaa', lw=.8, ls=(0,(2,1)))
    ax.axhline(1.3, color='#aaaaaa', lw=.8, ls=(0,(2,1)))
    ax.set_xlim(-6.6, 6.62); ax.set_ylim(0, ymax)
    ax.set_xticks(range(-6,7,2)); ax.set_yticks(yticks)
    ax.tick_params(labelsize=10, labelcolor='#333333', length=2.5, width=.7, bottom=True, left=True, pad=2, color='#555555')
    ax.set_xlabel(''); ax.set_ylabel('')
    for s in ax.spines.values():
        s.set_color('#333333'); s.set_linewidth(1.0)
    for name, tx, ty, x1, y1, x2, y2 in labels:
        ax.text(tx, ty, name, fontsize=8, ha='center', va='center', color='#222222')
        if x1 is not None:
            ax.annotate('', xy=(x2,y2), xytext=(x1,y1), arrowprops=dict(arrowstyle='-', lw=.8, color='#222222', shrinkA=0, shrinkB=0))
    T(title_x, title_y, leg_names[3], 14.5, ha='center')
    T(ylab_x, ylab_y, '-log$_{10}$(Pvalue)', 11, ha='center', rotation=90)
    xc = (l+r)/2
    T(xc, xl_y, 'log$_{2}$(Fold Change)', 11, ha='center')
    T(xc, xl_y+18, 'Syphilis T cells vs control', 11, ha='center')
    for (dx, tx), c, n in zip(leg, [BLUE,GREY,RED], leg_names[:3]):
        ov.scatter([dx],[leg_y], s=42, color=c, linewidths=0, alpha=.9)
        T(tx, leg_y, n, 8)
volcano(42.2,842.3,335.6,1117.3,cd8_down,cd8_ns,cd8_up,103.6,range(0,91,15),cd8_labels,188.7,798,13,980,1144,829.3,
        [(40.4,49.6),(167.6,176.3),(251,260.3)],['Down regulated(141)','Not sig(808)','Up regulated(108)','CD8'])
volcano(394,845.7,690,1120,cd4_down,cd4_ns,cd4_up,87,range(0,81,10),cd4_labels,531.7,800,364,985,1147,832.3,
        [(395.8,405),(517.4,526.6),(602.4,611.6)],['Down regulated(86)','Not sig(992)','Up regulated(118)','CD4'])

# ---------- Venn ----------
BL = '#1f6ea6'
cd4c = (811.8, 616); cd8c = (811.8, 694.3); rv = 79
ov.add_patch(Circle(cd8c, rv, facecolor='#fbf2d8', edgecolor='none', zorder=2))
ov.add_patch(Circle(cd4c, rv, facecolor='#dde6df', edgecolor='none', zorder=2.1))
lens = Circle(cd4c, rv, facecolor='#e7e0c4', edgecolor='none', zorder=2.2)
ov.add_patch(lens); lens.set_clip_path(Circle(cd8c, rv, transform=ov.transData))
ov.add_patch(Circle(cd4c, rv, facecolor='none', edgecolor=BL, lw=2.8, zorder=2.3))
g = Circle(cd4c, rv, facecolor='none', edgecolor='#8fa3a6', lw=3, zorder=2.4)
ov.add_patch(g); g.set_clip_path(Circle(cd8c, rv-1, transform=ov.transData))
ov.add_patch(Circle(cd8c, rv, facecolor='none', edgecolor=BL, lw=2.8, zorder=2.5))
ov.add_patch(Circle((744,656), 24, facecolor='none', edgecolor=BL, lw=2.8, zorder=2.6))
for x, y, s in [(780,586,'73'),(742.7,621.7,'1'),(728.7,655,'2'),(756,655,'2'),(807.4,655.7,'42'),(745,691,'1'),(786.8,732.7,'64')]:
    t = T(x, y, s, 15, ha='center', color='black'); t.set_zorder(4)
T(899,546.7,'CD4',15,ha='center',color='black'); T(896,760,'CD8',15,ha='center',color='black')
T(686,631.7,'Tregs',15,ha='center',color='black')
T(655,696,'SRGN',13,ha='center',fontstyle='italic',color='black'); T(666,722.7,'TMSB4X',13,ha='center',fontstyle='italic',color='black')
for verts, lw in [([(829,532),(838,400),(930,335),(1066,361)],1.9),
                  ([(893,623),(935,600),(1000,590),(1075,597)],1.9),
                  ([(841,778),(845,860),(950,918),(1065,917)],1.9),
                  ([(751,658),(748,690),(720,690),(685,705)],1.6)]:
    ov.add_patch(FancyArrowPatch(path=Path(verts,[Path.MOVETO,Path.CURVE4,Path.CURVE4,Path.CURVE4]),
                 arrowstyle='-|>,head_length=7,head_width=4', mutation_scale=1.6, lw=lw, color='#111111', zorder=5))

fig.savefig('out.png', dpi=100, facecolor='white')
